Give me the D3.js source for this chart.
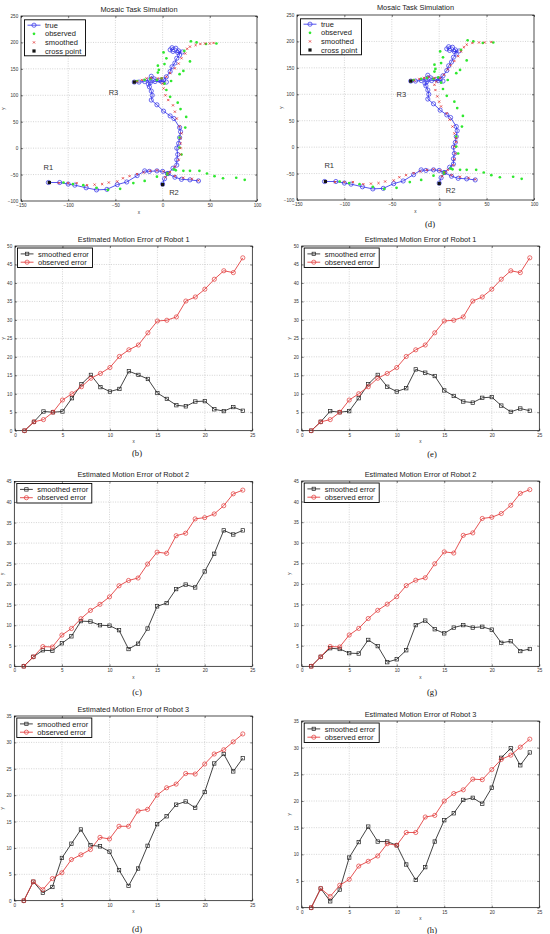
<!DOCTYPE html>
<html><head><meta charset="utf-8">
<script src="https://cdn.jsdelivr.net/npm/d3@7"></script>
<style>body{margin:0;background:#fff}svg{display:block}</style>
</head><body>
<script>
// ---------------- DATA ----------------
const mosaicXTicks = [-150,-100,-50,0,50,100];
const mosaicYTicks = [-100,-50,0,50,100,150,200,250];
const errXTicks = [0,5,10,15,20,25];
const errYTicks50 = [0,5,10,15,20,25,30,35,40,45,50];
const errYTicks45 = [0,5,10,15,20,25,30,35,40,45];
const errYTicks35 = [0,5,10,15,20,25,30,35];

// true trajectories
const trueR1 = [[-121,-65],[-109,-65],[-100,-68],[-93,-70],[-81,-75],[-70,-79],[-59,-78],[-48,-69],[-38,-64],[-27,-52],[-19,-43],[-14,-44],[-6,-43],[0,-44],[5,-48],[13,-55],[20,-59],[29,-60],[38,-62]];
const trueR2 = [[0,-68],[2,-58],[6,-48],[11,-38],[15,-32],[15,-22],[16,-12],[15,0],[17,9],[18,20],[19,31],[18,39],[12,56],[8,61],[1,70],[-6,82],[-12,91],[-11,100],[-12,108],[-14,116],[-15,121],[-13,124],[-8,126],[-1,126],[4,125]];
const trueR3 = [[-30,125],[-25,125],[-19,126],[-14,129],[-12,136],[-9,131],[-3,128],[1,129],[4,135],[8,145],[10,154],[13,161],[15,170],[18,176],[17,184],[14,189],[10,190],[8,186],[11,183],[16,181],[21,182]];
// observed positions
const obsR1 = [[-120,-65],[-105,-65],[-95,-68],[-84,-70],[-70,-75],[-58,-79],[-45,-77],[-31,-66],[-19,-62],[-6,-54],[5,-47],[14,-42],[22,-43],[29,-43],[39,-43],[47,-48],[55,-53],[64,-57],[78,-56],[87,-60]];
const obsR2 = [[0,-68],[5,-50],[12,-40],[20,-12],[18,1],[18,20],[24,39],[25,59],[19,74],[16,86],[8,97],[4,110],[2,122],[9,127],[18,140],[22,146],[29,164],[23,184],[30,202],[36,200],[46,197],[57,198]];
const obsR3 = [[-30,125],[-27,127],[-19,129],[-13,131],[-6,129],[-1,132],[-5,143],[-4,148],[-5,156],[2,159],[4,170],[1,181]];
// smoothed positions (panel a)
const smR1 = [[-120,-66],[-110,-66],[-100,-66],[-91,-66],[-80,-70],[-72,-69],[-64,-68],[-57,-65],[-48,-63],[-42,-57],[-35,-53],[-27,-49],[-20,-46],[-13,-43],[-6,-42],[1,-44],[6,-48],[13,-53],[22,-56],[31,-58],[38,-61]];
const smR2a = [[0,-68],[3,-55],[8,-45],[13,-35],[17,-22],[19,-12],[19,0],[19,9],[19,19],[20,28],[18,41],[15,56],[13,69],[11,81],[6,91],[3,100],[1,113],[0,122]];
const smR3a = [[-30,125],[-27,126],[-22,129],[-17,132],[-12,133],[-5,132],[-1,132],[4,135],[8,142],[13,151],[17,160],[20,170],[24,179],[26,188],[29,192],[35,195],[40,197],[45,198],[50,198],[54,199]];
// smoothed positions (panel d)
const smR2d = [[0,-68],[3,-55],[9,-43],[15,-34],[16,-23],[17,-12],[16,1],[18,10],[18,17],[16,26],[14,39],[11,52],[8,64],[2,77],[0,86],[-2,96],[-4,108],[-5,118],[-3,124]];
const smR3d = [[-30,125],[-26,126],[-21,129],[-16,131],[-11,133],[-5,131],[1,131],[5,137],[9,147],[12,155],[16,163],[20,172],[23,181],[26,189],[29,194],[35,197],[42,198],[48,198],[55,199]];
const crossPts = [[-120,-65],[0,-69],[-30,125]];
const robotNames = ["R1","R2","R3"];

// motion errors
const steps = [1,2,3,4,5,6,7,8,9,10,11,12,13,14,15,16,17,18,19,20,21,22,23,24];
const r1Obs = [0,2.4,3.0,5.0,8.3,10.0,11.9,14.2,15.5,17.1,20.1,21.9,23.2,26.5,29.7,29.9,30.8,35.1,36.2,38.3,41.0,43.3,42.8,46.8];
const r1SmB = [0,2.4,5.2,5.0,5.2,8.8,12.6,15.1,11.8,10.6,11.3,16.1,15.1,14.0,10.2,8.6,6.9,6.6,7.9,8.0,5.8,5.3,6.4,5.4];
const r1SmE = [0,2.4,5.3,5.0,5.3,8.8,12.6,15.1,11.9,10.6,11.5,16.6,15.7,14.8,10.9,9.4,7.9,7.6,8.9,9.1,6.8,5.1,6.0,5.4];
const r2Obs = [0,2.3,4.8,4.7,7.6,9.2,11.6,13.6,15.1,16.9,19.6,20.9,21.5,24.9,27.8,27.5,31.8,32.4,35.9,36.2,37.1,39.1,42.0,42.9];
const r2SmC = [0,2.3,3.9,3.8,5.6,7.3,11.0,10.9,10.0,9.9,8.8,4.2,5.5,9.2,14.6,15.4,18.8,19.9,19.2,23.1,27.4,33.1,32.1,33.1];
const r2SmG = [0,2.3,4.4,4.2,3.2,3.1,6.4,4.9,1.0,1.7,3.9,10.0,11.1,9.0,8.0,9.4,10.0,9.4,9.6,8.9,5.7,6.1,3.7,4.2];
const r3Obs = [0,3.6,2.1,4.2,5.3,7.8,8.7,9.7,12.0,11.7,14.1,14.1,17.0,17.3,20.0,21.4,22.1,24.1,24.0,25.9,27.8,28.6,30.1,31.6];
const r3SmD = [0,3.6,1.5,2.6,8.1,10.8,13.5,10.5,10.3,9.3,5.8,2.8,6.1,10.4,14.5,16.0,18.2,18.8,17.6,20.6,26.0,27.8,24.5,27.0];
const r3SmH = [0,3.6,1.2,3.4,9.4,12.3,15.2,12.4,12.4,11.7,8.1,5.2,7.6,12.4,16.4,17.7,20.2,20.6,19.5,22.5,28.1,29.9,26.7,29.1];

// ---------------- DRAWING ----------------
const BLUE='#2b2be8', GREEN='#2fe82f', RED='#e23636', DARK='#222';
const FONT='"Liberation Sans", Arial, Helvetica, sans-serif';
const SERIF='"Liberation Serif", "Times New Roman", serif';
const svg=d3.select('body').append('svg').attr('width',550).attr('height',934)
  .attr('font-family',FONT);

function frame(g,x,y,xt,yt){
  const [x0,x1]=x.range(), [y0,y1]=y.range();
  const grid=g.append('g').attr('stroke','#a9a9a9').attr('stroke-width',0.5).attr('stroke-dasharray','1,1.4');
  grid.selectAll('line.gx').data(xt.filter(v=>x(v)>x0+0.5&&x(v)<x1-0.5)).join('line')
    .attr('x1',d=>x(d)).attr('x2',d=>x(d)).attr('y1',y0).attr('y2',y1);
  grid.selectAll('line.gy').data(yt.filter(v=>y(v)<y0-0.5&&y(v)>y1+0.5)).join('line').attr('class','gy')
    .attr('y1',d=>y(d)).attr('y2',d=>y(d)).attr('x1',x0).attr('x2',x1);
  const style=s=>{s.attr('font-size',4.6).attr('font-family',FONT);s.select('.domain').remove();
    s.selectAll('line').attr('stroke','#000').attr('stroke-width',0.5);s.selectAll('text').attr('fill','#333');};
  g.append('g').attr('transform',`translate(0,${y0})`).call(d3.axisBottom(x).tickValues(xt).tickSizeInner(-2).tickSizeOuter(0).tickPadding(2.6)).call(style);
  g.append('g').attr('transform',`translate(0,${y1})`).call(d3.axisTop(x).tickValues(xt).tickSizeInner(-2).tickSizeOuter(0).tickFormat('')).call(style);
  g.append('g').attr('transform',`translate(${x0},0)`).call(d3.axisLeft(y).tickValues(yt).tickSizeInner(-2).tickSizeOuter(0).tickPadding(2.8)).call(style);
  g.append('g').attr('transform',`translate(${x1},0)`).call(d3.axisRight(y).tickValues(yt).tickSizeInner(-2).tickSizeOuter(0).tickFormat('')).call(style);
  g.append('rect').attr('x',x0).attr('y',y1).attr('width',x1-x0).attr('height',y0-y1)
    .attr('fill','none').attr('stroke','#000').attr('stroke-width',0.7);
}

function texts(g,c,x,y){
  const [x0,x1]=x.range(), [y0,y1]=y.range();
  g.append('text').attr('x',(x0+x1)/2).attr('y',c.titleY).attr('dy','0.35em').attr('text-anchor','middle')
    .attr('font-size',7.4).attr('fill','#222').text(c.title);
  g.append('text').attr('x',(x0+x1)/2).attr('y',y0+11).attr('dy','0.35em').attr('text-anchor','middle')
    .attr('font-size',4.6).attr('fill','#333').text('x');
  g.append('text').attr('transform',`translate(${x0-c.yLab},${(y0+y1)/2}) rotate(-90)`).attr('dy','0.35em')
    .attr('text-anchor','middle').attr('font-size',4.6).attr('fill','#333').text('y');
  if(c.caption) g.append('text').attr('x',c.capX).attr('y',c.capY).attr('dy','0.33em').attr('text-anchor','middle')
    .attr('font-family',SERIF).attr('font-size',8.6).attr('fill','#111').text(c.caption);
}

const xMark=(px,py,s)=>`M${px-s},${py-s}L${px+s},${py+s}M${px+s},${py-s}L${px-s},${py+s}`;

function mosaic(c){
  const x=d3.scaleLinear().domain([mosaicXTicks[0],mosaicXTicks[mosaicXTicks.length-1]]).range([c.L,c.R]);
  const y=d3.scaleLinear().domain([mosaicYTicks[0],mosaicYTicks[mosaicYTicks.length-1]]).range([c.B,c.T]);
  const g=svg.append('g');
  frame(g,x,y,mosaicXTicks,mosaicYTicks);
  const line=d3.line().x(d=>x(d[0])).y(d=>y(d[1]));
  const truePaths=[trueR1,trueR2,trueR3];
  truePaths.forEach(p=>g.append('path').attr('d',line(p)).attr('fill','none').attr('stroke',BLUE).attr('stroke-width',0.8));
  g.append('g').selectAll('circle').data(truePaths.flat()).join('circle')
    .attr('cx',d=>x(d[0])).attr('cy',d=>y(d[1])).attr('r',2.1).attr('fill','none').attr('stroke',BLUE).attr('stroke-width',0.7);
  g.append('g').selectAll('circle').data([obsR1,obsR2,obsR3].flat()).join('circle')
    .attr('cx',d=>x(d[0])).attr('cy',d=>y(d[1])).attr('r',1.35).attr('fill',GREEN);
  g.append('g').selectAll('path').data(c.sm.flat()).join('path')
    .attr('d',d=>xMark(x(d[0]),y(d[1]),1.1)).attr('stroke',RED).attr('stroke-width',0.8).attr('fill','none');
  g.append('g').selectAll('rect').data(crossPts).join('rect')
    .attr('x',d=>x(d[0])-1.6).attr('y',d=>y(d[1])-1.6).attr('width',3.2).attr('height',3.2).attr('fill','#111');
  g.append('g').selectAll('text').data(robotNames).join('text')
    .attr('x',(d,i)=>x(c.labels[i][0])).attr('y',(d,i)=>y(c.labels[i][1])).attr('dy','0.35em')
    .attr('text-anchor','middle').attr('font-size',7.5).attr('fill','#333').text(d=>d);
  // legend
  const lg=g.append('g').attr('transform',`translate(${c.L+3.5},${c.T+3.8})`);
  lg.append('rect').attr('width',61).attr('height',36).attr('fill','#fff').attr('stroke','#000').attr('stroke-width',0.9);
  const items=['true','observed','smoothed','cross point'];
  items.forEach((t,i)=>{
    const yy=5.4+8.6*i, mx=9.5;
    if(i===0){ lg.append('line').attr('x1',3).attr('x2',16).attr('y1',yy).attr('y2',yy).attr('stroke',BLUE).attr('stroke-width',0.8);
      lg.append('circle').attr('cx',mx).attr('cy',yy).attr('r',2.1).attr('fill','none').attr('stroke',BLUE).attr('stroke-width',0.7);}
    if(i===1) lg.append('circle').attr('cx',mx).attr('cy',yy).attr('r',1.35).attr('fill',GREEN);
    if(i===2) lg.append('path').attr('d',xMark(mx,yy,1.1)).attr('stroke',RED).attr('stroke-width',0.8);
    if(i===3) lg.append('rect').attr('x',mx-1.6).attr('y',yy-1.6).attr('width',3.2).attr('height',3.2).attr('fill','#111');
    lg.append('text').attr('x',20.5).attr('y',yy).attr('dy','0.35em').attr('font-size',7.5).attr('fill','#222').text(t);
  });
  texts(g,c,x,y);
}

function errPanel(c){
  const x=d3.scaleLinear().domain([errXTicks[0],errXTicks[errXTicks.length-1]]).range([c.L,c.R]);
  const y=d3.scaleLinear().domain([c.yt[0],c.yt[c.yt.length-1]]).range([c.B,c.T]);
  const g=svg.append('g');
  frame(g,x,y,errXTicks,c.yt);
  const line=d3.line().x((d,i)=>x(steps[i])).y(d=>y(d));
  g.append('path').attr('d',line(c.sm)).attr('fill','none').attr('stroke',DARK).attr('stroke-width',0.85);
  g.append('g').selectAll('rect').data(c.sm).join('rect')
    .attr('x',(d,i)=>x(steps[i])-1.7).attr('y',d=>y(d)-1.7).attr('width',3.4).attr('height',3.4)
    .attr('fill','none').attr('stroke',DARK).attr('stroke-width',0.7);
  g.append('path').attr('d',line(c.obs)).attr('fill','none').attr('stroke',RED).attr('stroke-width',0.85);
  g.append('g').selectAll('circle').data(c.obs).join('circle')
    .attr('cx',(d,i)=>x(steps[i])).attr('cy',d=>y(d)).attr('r',2.1)
    .attr('fill','none').attr('stroke',RED).attr('stroke-width',0.7);
  const lg=g.append('g').attr('transform',`translate(${c.L+2.5},${c.T+2})`);
  lg.append('rect').attr('width',75).attr('height',19.5).attr('fill','#fff').attr('stroke','#000').attr('stroke-width',0.9);
  [['smoothed error',DARK,'sq'],['observed error',RED,'ci']].forEach((it,i)=>{
    const yy=5.9+8.3*i, mx=9.6;
    lg.append('line').attr('x1',3.2).attr('x2',16).attr('y1',yy).attr('y2',yy).attr('stroke',it[1]).attr('stroke-width',0.85);
    if(it[2]==='sq') lg.append('rect').attr('x',mx-1.7).attr('y',yy-1.7).attr('width',3.4).attr('height',3.4).attr('fill','none').attr('stroke',it[1]).attr('stroke-width',0.7);
    else lg.append('circle').attr('cx',mx).attr('cy',yy).attr('r',2.1).attr('fill','none').attr('stroke',it[1]).attr('stroke-width',0.7);
    lg.append('text').attr('x',20.5).attr('y',yy).attr('dy','0.35em').attr('font-size',7.5).attr('fill','#222').text(it[0]);
  });
  texts(g,c,x,y);
}

mosaic({L:21,R:257,T:16,B:201,title:'Mosaic Task Simulation',titleY:9.3,yLab:18,caption:null,
  sm:[smR1,smR2a,smR3a],labels:[[-121,-37],[12,-83],[-52,105]]});
mosaic({L:297,R:534,T:15,B:200,title:'Mosaic Task Simulation',titleY:7.6,yLab:16,caption:'(d)',capX:430,capY:224.5,
  sm:[smR1,smR2d,smR3d],labels:[[-116,-35],[12,-82],[-40,100]]});

errPanel({L:15,R:252.3,T:246,B:430.7,yt:errYTicks50,sm:r1SmB,obs:r1Obs,title:'Estimated Motion Error of Robot 1',titleY:239.3,yLab:12,caption:'(b)',capX:137,capY:453.5});
errPanel({L:301.7,R:539.3,T:246,B:430.7,yt:errYTicks50,sm:r1SmE,obs:r1Obs,title:'Estimated Motion Error of Robot 1',titleY:239.3,yLab:12.5,caption:'(e)',capX:432,capY:454});
errPanel({L:14.3,R:252.3,T:481.5,B:666.3,yt:errYTicks45,sm:r2SmC,obs:r2Obs,title:'Estimated Motion Error of Robot 2',titleY:474.3,yLab:12,caption:'(c)',capX:137,capY:692.5});
errPanel({L:301.7,R:539.3,T:481,B:666.3,yt:errYTicks45,sm:r2SmG,obs:r2Obs,title:'Estimated Motion Error of Robot 2',titleY:474,yLab:12.5,caption:'(g)',capX:432,capY:692.5});
errPanel({L:14.3,R:252.3,T:716,B:900.7,yt:errYTicks35,sm:r3SmD,obs:r3Obs,title:'Estimated Motion Error of Robot 3',titleY:709,yLab:11.6,caption:'(d)',capX:137,capY:929.3});
errPanel({L:301.7,R:539.3,T:721,B:907.7,yt:errYTicks35,sm:r3SmH,obs:r3Obs,title:'Estimated Motion Error of Robot 3',titleY:714,yLab:12.5,caption:'(h)',capX:432,capY:930});
</script>
</body></html>
